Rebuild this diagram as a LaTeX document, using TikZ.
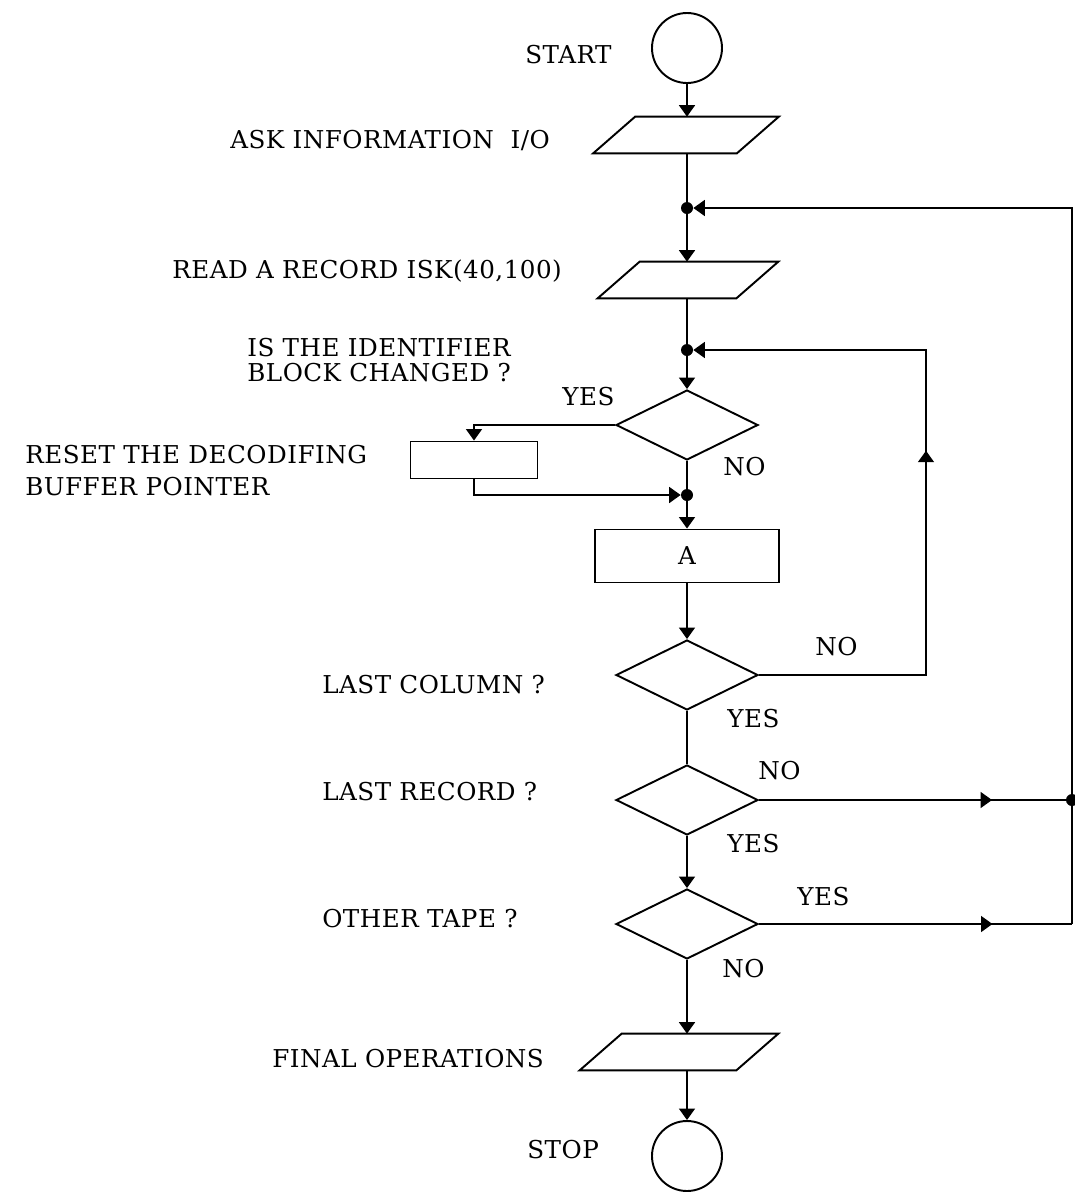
\documentclass[tikz,border=0pt]{standalone}
\usepackage{fontspec}
\setmainfont{DejaVu Serif}[LetterSpace=2]
\usetikzlibrary{arrows.meta,calc,positioning,shapes.geometric,decorations.markings}

% slanted input/output box drawn round an (invisible) node
\newcommand{\iopar}[1]{%
  \draw[conn] (#1.south west) -- ([xshift=0.84cm]#1.north west) -- (#1.north east)
    -- ([xshift=-0.84cm]#1.south east) -- cycle;}

\begin{document}
\begin{tikzpicture}[x=0.2mm,y=-0.2mm,
                    every node/.style={font=\fontsize{14}{18}\selectfont},
                    conn/.style={line width=1.1pt},
                    flow/.style={conn,-{Triangle[width=9pt,length=6.5pt]}},
                    midarrow/.style={postaction={decorate},decoration={markings,
                        mark=at position #1 with {\arrow{Triangle[width=9pt,length=6.5pt]}}}},
                    term/.style={draw,line width=1.1pt,circle,minimum size=1.4cm,inner sep=0pt},
                    io/.style={rectangle,minimum height=0.72cm,inner sep=0pt},
                    test/.style={draw,line width=1.1pt,diamond,minimum width=2.84cm,
                        minimum height=1.4cm,inner sep=0pt},
                    proc/.style={draw,line width=1.1pt,rectangle,inner sep=0pt},
                    junction/.style={circle,fill,inner sep=0pt,minimum size=0.24cm},
                    txt/.style={anchor=base west,inner sep=0pt}]
  \useasboundingbox (0,0) rectangle (1075,1193);

  % --- main column ---------------------------------------------------------
  \node[term] (start) at (687,48) {};
  \node[io,minimum width=3.7cm] (ask) at (686,135) {};
  \node[junction] (j1) at (687,208) {};
  \node[io,minimum width=3.6cm] (read) at (688,280) {};
  \node[junction] (j2) at (687,350) {};
  \node[test] (ident) at (687,425) {};
  \node[proc,minimum width=2.54cm,minimum height=0.74cm] (reset) at (474,460) {};
  \node[junction] (j3) at (687,495) {};
  \node[proc,minimum width=3.68cm,minimum height=1.06cm] (boxA) at (687,556) {A};
  \node[test] (lastcol) at (687,675) {};
  \node[test] (lastrec) at (687,800) {};
  \node[test] (other) at (687,924) {};
  \node[io,minimum width=3.96cm] (final) at (679,1052) {};
  \node[term] (stop) at (687,1156) {};
  \iopar{ask}
  \iopar{read}
  \iopar{final}

  % --- return lines ----------------------------------------------------------
  \node[junction] (jr) at (1072,800) {};
  \coordinate (cl) at (926,675);
  \coordinate (cr) at (1072,924);

  % --- texts -------------------------------------------------------------
  \node[txt] at (525,63) {START};
  \node[txt] at (230,148) {ASK INFORMATION\ \ I/O};
  \node[txt] at (172,278) {READ A RECORD ISK(40,100)};
  \node[txt,anchor=north west,align=left] at (247,338) {IS THE IDENTIFIER\\[-4pt]BLOCK CHANGED ?};
  \node[txt,anchor=north west,align=left] at (25,445) {RESET THE DECODIFING\\BUFFER POINTER};
  \node[txt] at (322,693) {LAST COLUMN ?};
  \node[txt] at (322,800) {LAST RECORD ?};
  \node[txt] at (322,927) {OTHER TAPE ?};
  \node[txt] at (272,1067) {FINAL OPERATIONS};
  \node[txt] at (527,1158) {STOP};

  \node[txt] at (562,405) {YES};
  \node[txt] at (723,475) {NO};
  \node[txt] at (815,655) {NO};
  \node[txt] at (727,727) {YES};
  \node[txt] at (758,779) {NO};
  \node[txt] at (727,852) {YES};
  \node[txt] at (797,905) {YES};
  \node[txt] at (722,977) {NO};

  % --- connectors ----------------------------------------------------------
  \draw[flow] (start) -- (start |- ask.north);
  \draw[conn] (ask.south -| j1) -- (j1);
  \draw[flow] (j1) -- (j1 |- read.north);
  \draw[conn] (read.south -| j2) -- (j2);
  \draw[flow] (j2) -- (ident);
  \draw[flow] (ident.west) -| (reset.north);
  \draw[flow] (reset.south) |- (j3);
  \draw[conn] (ident) -- (j3);
  \draw[flow] (j3) -- (boxA);
  \draw[flow] (boxA) -- (lastcol);
  \draw[flow,midarrow=0.54] (lastcol.east) -- (cl) |- (j2);
  \draw[conn] (lastcol) -- (lastrec);
  \draw[flow] (lastrec) -- (other);
  \draw[conn,midarrow=0.76] (lastrec.east) -- (jr);
  \draw[conn,midarrow=0.746] (other.east) -- (cr);
  \draw[conn] (cr) -- (jr);
  \draw[flow] (jr) |- (j1);
  \draw[flow] (other.south) -- (other.south |- final.north);
  \draw[flow] (stop |- final.south) -- (stop);
\end{tikzpicture}
\end{document}
